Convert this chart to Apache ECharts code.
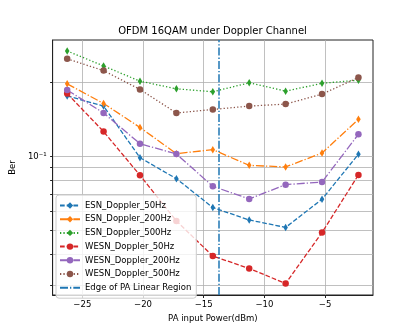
<!DOCTYPE html>
<html>
<head>
<meta charset="utf-8">
<script src="https://cdn.jsdelivr.net/npm/echarts@6/dist/echarts.min.js"></script>
<style>
  html, body { margin: 0; padding: 0; background: #fff; }
  #chart { width: 415px; height: 332px; }
</style>
</head>
<body>
<div id="chart"></div>
<script>
// PA input power points (dBm)
var powers = [-26.25, -23.25, -20.25, -17.25, -14.25, -11.25, -8.25, -5.25, -2.25]
var edgeOfLinear = -13.8

// BER values
var esn50 = [0.176, 0.160, 0.0987, 0.0811, 0.0619, 0.0551, 0.0514, 0.0669, 0.102]
var esn200 = [0.197, 0.164, 0.131, 0.1025, 0.1064, 0.0919, 0.0905, 0.1031, 0.1414]
var esn500 = [0.268, 0.233, 0.202, 0.188, 0.183, 0.199, 0.184, 0.198, 0.204]
var wesn50 = [0.180, 0.126, 0.0837, 0.0546, 0.0393, 0.0350, 0.0304, 0.0490, 0.084]
var wesn200 = [0.186, 0.150, 0.1125, 0.1022, 0.0755, 0.0671, 0.0767, 0.0786, 0.1229]
var wesn500 = [0.249, 0.223, 0.187, 0.150, 0.155, 0.160, 0.163, 0.179, 0.209]

// axis ticks
var xTicks = [-25, -20, -15, -10, -5]
var yTicks = [0.03, 0.04, 0.05, 0.06, 0.07, 0.08, 0.09, 0.1, 0.2]
var yLabels = [0.1]

var font = 'DejaVu Sans'
var dashed = [4.7, 2]
var dashDot = [8, 2, 1.3, 2]
var dotted = [1.3, 2.1]

function pairs(vals) {
  return powers.map(function (p, i) {
    return [p, vals[i]]
  })
}

function makeSeries(name, vals, color, dash, symbol) {
  return {
    name: name,
    type: 'line',
    data: pairs(vals),
    symbol: symbol,
    symbolSize: symbol === 'circle' ? 6.5 : [4.5, 7.5],
    color: color,
    lineStyle: { color: color, width: 1.3, type: dash },
    itemStyle: { color: color },
    emphasis: { disabled: true },
    animation: false
  }
}

var names = [
  'ESN_Doppler_50Hz', 'ESN_Doppler_200Hz', 'ESN_Doppler_500Hz',
  'WESN_Doppler_50Hz', 'WESN_Doppler_200Hz', 'WESN_Doppler_500Hz',
  'Edge of PA Linear Region'
]

var chart = echarts.init(document.getElementById('chart'), null, { renderer: 'canvas' })

var option = {
  backgroundColor: '#fff',
  textStyle: { fontFamily: font },
  title: {
    text: 'OFDM 16QAM under Doppler Channel',
    left: 212.5,
    top: 26,
    padding: 0,
    textAlign: 'center',
    textStyle: { fontSize: 10, fontWeight: 'normal', color: '#000', fontFamily: font }
  },
  legend: {
    orient: 'vertical',
    left: 56,
    top: 195,
    itemWidth: 20,
    itemHeight: 8,
    itemGap: 4.7,
    padding: [6, 5, 6, 3],
    backgroundColor: 'rgba(255,255,255,0.8)',
    borderColor: '#cccccc',
    borderWidth: 1,
    borderRadius: 3,
    selectedMode: false,
    textStyle: { fontSize: 8.5, color: '#000', fontFamily: font, lineHeight: 8 },
    data: names.map(function (n, i) {
      // the vertical edge line shows no marker in the legend
      return i === 6 ? { name: n, itemStyle: { opacity: 0 } } : { name: n }
    })
  },
  grid: {
    left: 52,
    right: 42,
    top: 40,
    bottom: 37,
    show: true,
    borderColor: '#222',
    borderWidth: 1,
    backgroundColor: 'transparent'
  },
  xAxis: {
    type: 'value',
    min: -27.45,
    max: -1.05,
    name: 'PA input Power(dBm)',
    nameLocation: 'middle',
    nameGap: 18,
    nameTextStyle: { fontSize: 8.5, color: '#000', fontFamily: font },
    axisLine: { show: true, onZero: false, lineStyle: { color: '#222', width: 1 } },
    axisTick: { show: true, length: 3, customValues: xTicks, lineStyle: { color: '#222' } },
    axisLabel: {
      customValues: xTicks,
      margin: 5,
      fontSize: 8.5,
      color: '#000',
      fontFamily: font,
      formatter: function (v) {
        return v < 0 ? '\u2212' + Math.abs(v) : String(v)
      }
    },
    splitLine: { show: true, lineStyle: { color: '#b0b0b0', width: 0.8 } }
  },
  yAxis: {
    type: 'log',
    logBase: 10,
    min: 0.0273,
    max: 0.297,
    name: 'Ber',
    nameLocation: 'middle',
    nameGap: 28,
    nameTextStyle: { fontSize: 8.5, color: '#000', fontFamily: font },
    axisLine: { show: true, lineStyle: { color: '#222', width: 1 } },
    axisTick: { show: true, length: 2.5, customValues: yTicks, lineStyle: { color: '#222' } },
    axisLabel: {
      customValues: yLabels,
      margin: 6,
      fontSize: 8.5,
      color: '#000',
      fontFamily: font,
      formatter: function () {
        return '10\u207B\u00B9'
      }
    },
    splitLine: { show: true, lineStyle: { color: '#b0b0b0', width: 0.8 } }
  },
  series: [
    makeSeries(names[0], esn50, '#1f77b4', dashed, 'diamond'),
    makeSeries(names[1], esn200, '#ff7f0e', dashDot, 'diamond'),
    makeSeries(names[2], esn500, '#2ca02c', dotted, 'diamond'),
    makeSeries(names[3], wesn50, '#d62728', dashed, 'circle'),
    makeSeries(names[4], wesn200, '#9467bd', dashDot, 'circle'),
    makeSeries(names[5], wesn500, '#8c564b', dotted, 'circle'),
    {
      name: names[6],
      type: 'line',
      data: [],
      symbol: 'none',
      color: '#1f77b4',
      lineStyle: { color: '#1f77b4', width: 1.5, type: dashDot },
      animation: false,
      markLine: {
        silent: true,
        symbol: 'none',
        animation: false,
        label: { show: false },
        lineStyle: { color: '#1f77b4', width: 1.5, type: dashDot },
        data: [{ xAxis: edgeOfLinear }]
      }
    }
  ]
}

chart.setOption(option)
</script>
</body>
</html>
